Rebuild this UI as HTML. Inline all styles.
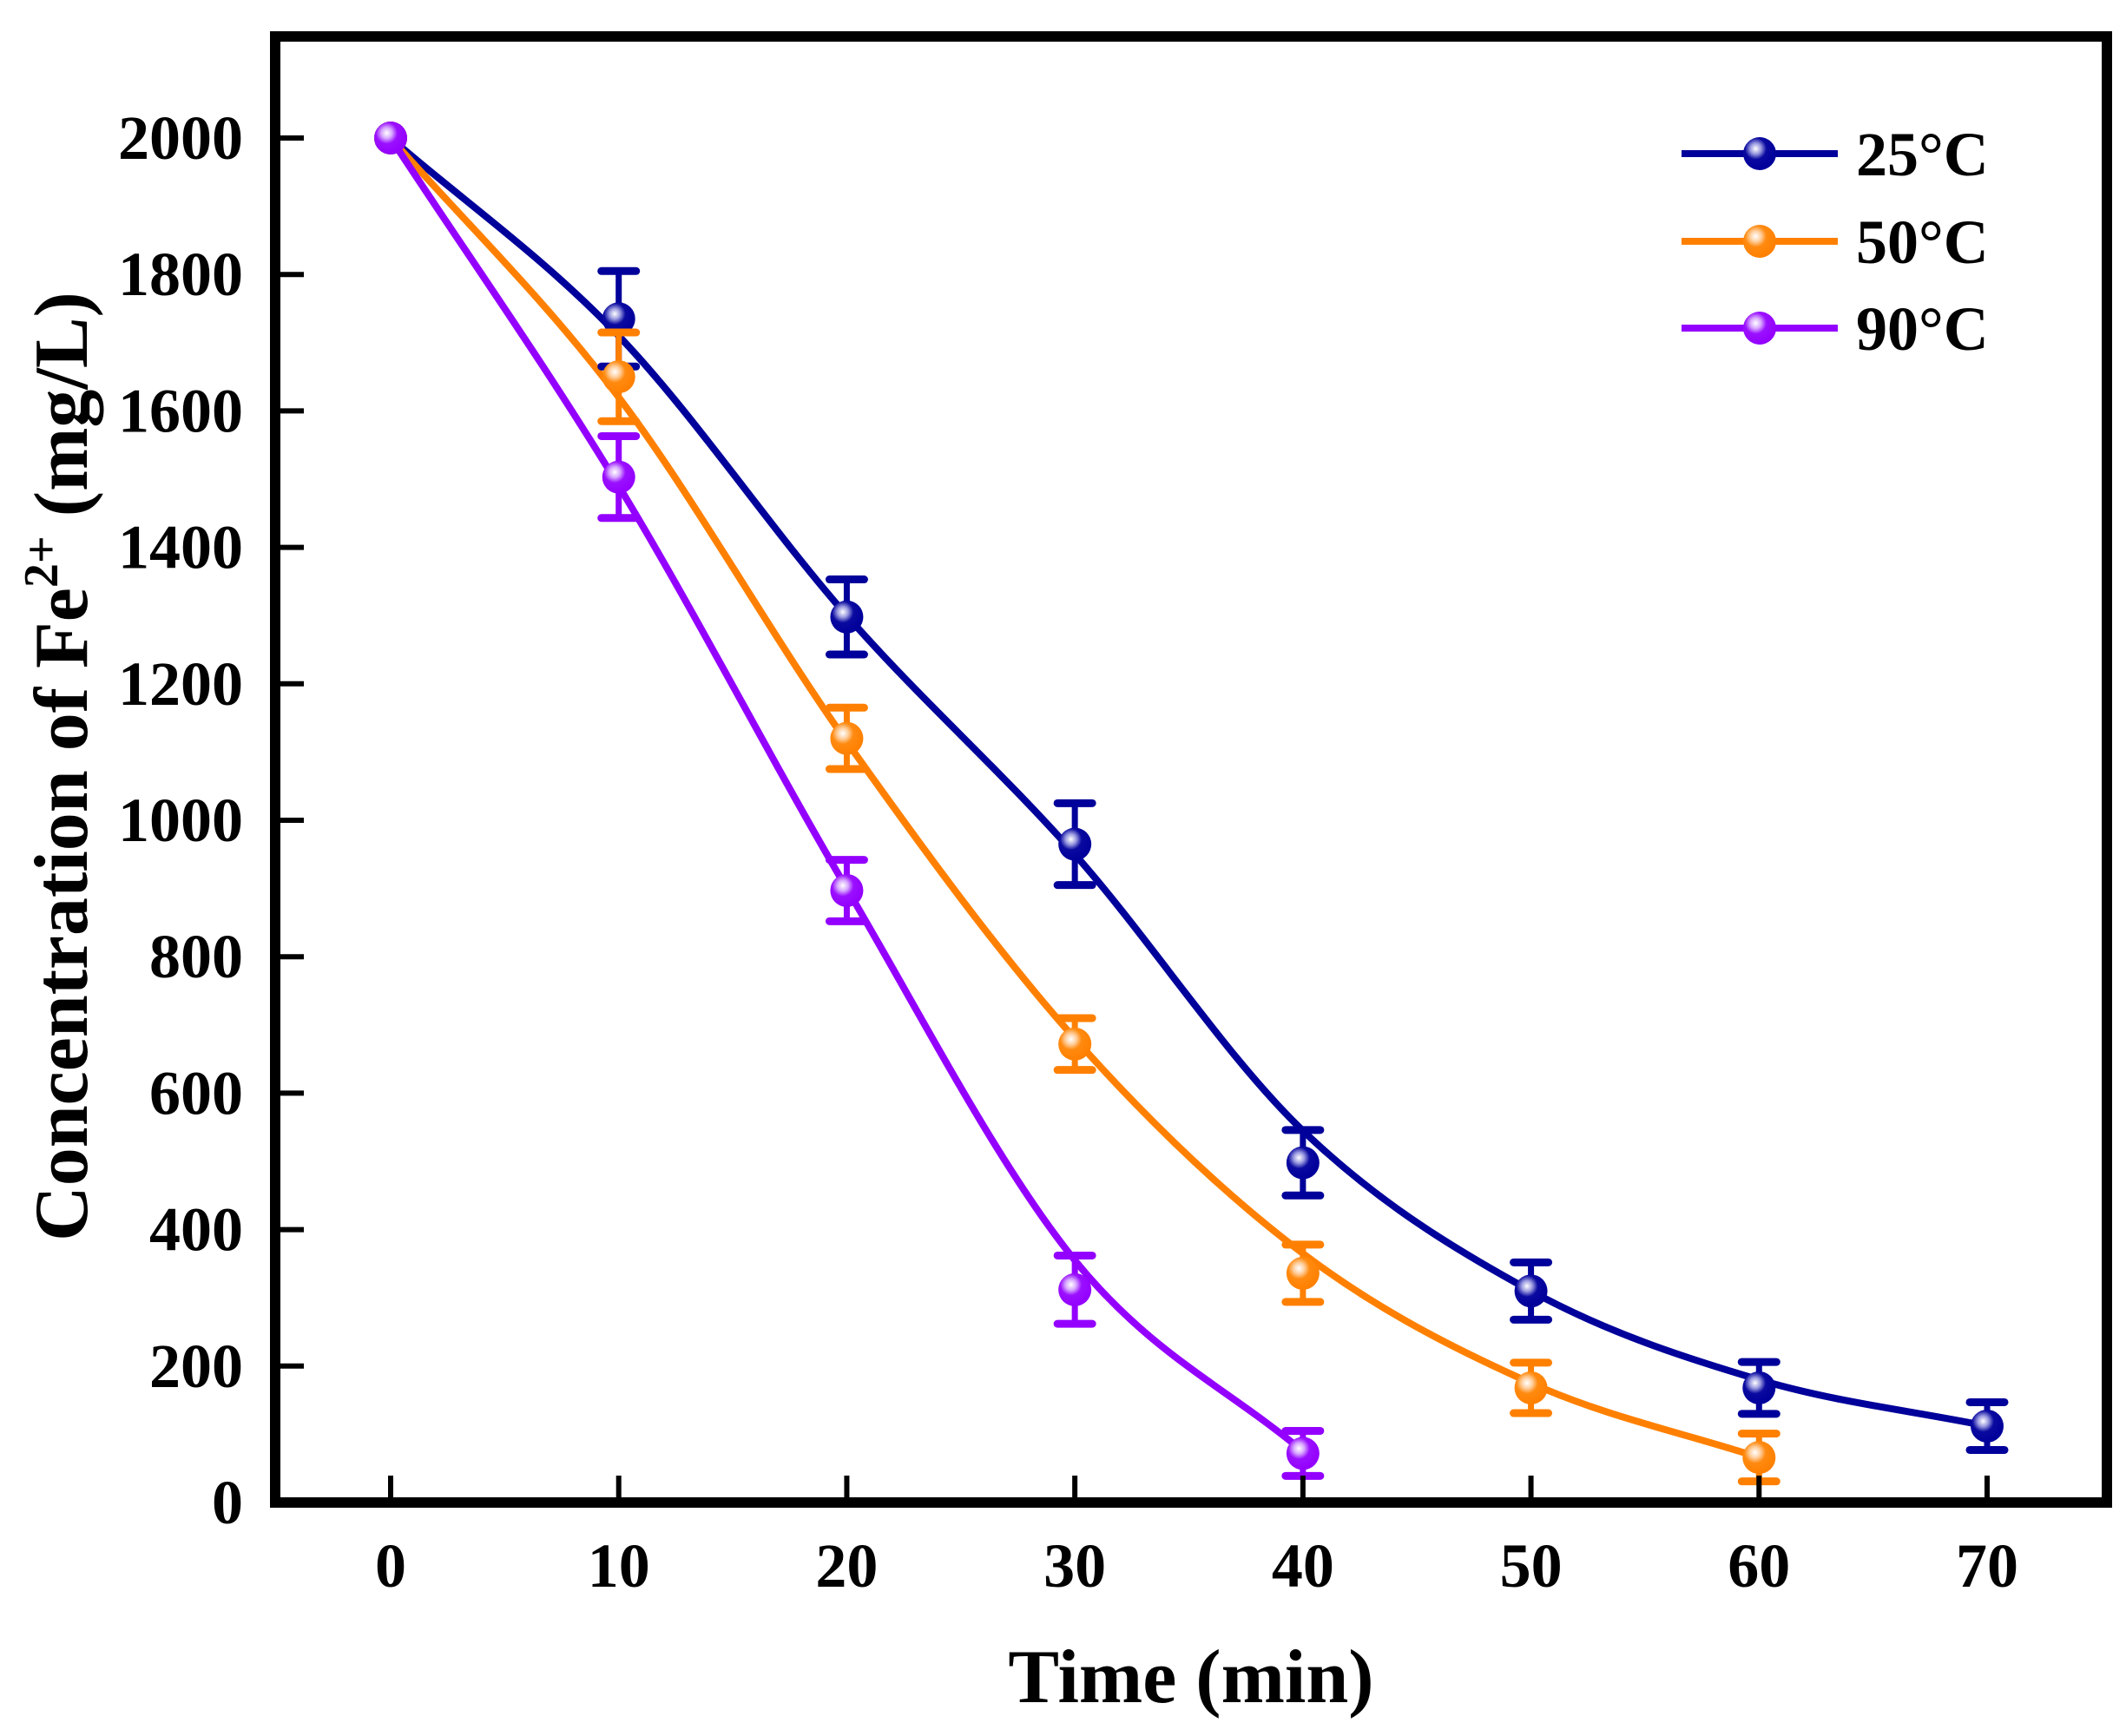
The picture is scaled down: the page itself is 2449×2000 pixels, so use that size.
<!DOCTYPE html>
<html><head><meta charset="utf-8"><style>
html,body{margin:0;padding:0;background:#fff}
svg{display:block}
text{font-family:"Liberation Serif",serif;font-weight:bold;fill:#000}
</style></head><body>
<svg id="chart" width="2449" height="2000" viewBox="0 0 2449 2000" xmlns="http://www.w3.org/2000/svg">
<defs>
<radialGradient id="g25" cx="0.38" cy="0.35" r="0.65"><stop offset="0" stop-color="#fff"/><stop offset="0.25" stop-color="#9a9ae0"/><stop offset="0.5" stop-color="#0a0aa0"/><stop offset="1" stop-color="#00009a"/></radialGradient>
<radialGradient id="g50" cx="0.38" cy="0.35" r="0.65"><stop offset="0" stop-color="#fff"/><stop offset="0.25" stop-color="#ffd0a0"/><stop offset="0.5" stop-color="#ff8a10"/><stop offset="1" stop-color="#ff8000"/></radialGradient>
<radialGradient id="g90" cx="0.38" cy="0.35" r="0.65"><stop offset="0" stop-color="#fff"/><stop offset="0.25" stop-color="#d8a8ff"/><stop offset="0.5" stop-color="#9a10ff"/><stop offset="1" stop-color="#9400ff"/></radialGradient>
</defs>
<g id="plot"></g>
<rect x="317" y="42" width="2110" height="1689" fill="none" stroke="#000" stroke-width="12"/>
<text x="1372" y="1961" font-size="88" text-anchor="middle">Time (min)</text>
<text transform="translate(100,883) rotate(-90)" font-size="88" text-anchor="middle">Concentration of Fe<tspan font-size="56" dy="-34">2+</tspan><tspan dy="34"> (mg/L)</tspan></text>
</svg>
<script>
const xTicks=[0,10,20,30,40,50,60,70];
const yTicks=[0,200,400,600,800,1000,1200,1400,1600,1800,2000];
const time25=[0,10,20,30,40,50,60,70];
const conc25=[2000,1735,1298,965,498,310,168,112];
const err25=[0,70,55,60,48,42,38,35];
const fit25=[2000,1710,1300,950,545,310,180,112];
const time50=[0,10,20,30,40,50,60];
const conc50=[2000,1650,1120,672,336,168,66];
const err50=[0,65,45,38,42,37,35];
const fit50=[2000,1620,1115,680,365,175,66];
const time90=[0,10,20,30,40];
const conc90=[2000,1503,897,312,72];
const err90=[0,60,45,50,33];
const fit90=[2000,1490,900,355,75];
const seriesNames=["25°C","50°C","90°C"];

const NS="http://www.w3.org/2000/svg";
const X=v=>450+v*(2289-450)/70;
const Y=v=>1731-v*(1731-159)/2000;
const svg=document.getElementById('chart');
const plot=document.getElementById('plot');
function mk(tag,attrs,parent){const e=document.createElementNS(NS,tag);for(const k in attrs)e.setAttribute(k,attrs[k]);(parent||svg).appendChild(e);return e;}

xTicks.forEach(t=>{
  const l=mk('line',{x1:X(t),x2:X(t),y1:1731,y2:1700,stroke:'#000','stroke-width':6});
  
  
  const tx=mk('text',{x:X(t),y:1828,'font-size':72,'text-anchor':'middle'});
  tx.textContent=t;
  
  
});
yTicks.forEach(t=>{
  const l=mk('line',{x1:317,x2:350,y1:Y(t),y2:Y(t),stroke:'#000','stroke-width':6});
  
  
  const tx=mk('text',{x:280,y:Y(t)+24,'font-size':72,'text-anchor':'end'});
  tx.textContent=t;
  
  
});

function monotone(xs,ys){
  const n=xs.length,d=[],m=[];
  for(let i=0;i<n-1;i++)d.push((ys[i+1]-ys[i])/(xs[i+1]-xs[i]));
  m[0]=d[0];m[n-1]=d[n-2];
  for(let i=1;i<n-1;i++)m[i]=(d[i-1]*d[i]<=0)?0:(d[i-1]+d[i])/2;
  let p=`M${xs[0]},${ys[0]}`;
  for(let i=0;i<n-1;i++){const h=xs[i+1]-xs[i];
    p+=` C${xs[i]+h/3},${ys[i]+m[i]*h/3} ${xs[i+1]-h/3},${ys[i+1]-m[i+1]*h/3} ${xs[i+1]},${ys[i+1]}`;}
  return p;
}
const series=[
 {t:time25,c:conc25,e:err25,f:fit25,col:'#00009a',g:'g25',key:'25c'},
 {t:time50,c:conc50,e:err50,f:fit50,col:'#ff8000',g:'g50',key:'50c'},
 {t:time90,c:conc90,e:err90,f:fit90,col:'#9400ff',g:'g90',key:'90c'}];
series.forEach(s=>{
  const p=mk('path',{d:monotone(s.t.map(X),s.f.map(Y)),fill:'none',stroke:s.col,'stroke-width':8},plot);
  
  
});
series.forEach(s=>{
  s.t.forEach((t,i)=>{
    const g=mk('g',{},plot);
    
    
    if(s.e[i]>0){
      const x=X(t),y1=Y(s.c[i]+s.e[i]),y2=Y(s.c[i]-s.e[i]);
      mk('line',{x1:x,x2:x,y1:y1,y2:y2,stroke:s.col,'stroke-width':7},g);
      mk('line',{x1:x-20,x2:x+20,y1:y1,y2:y1,stroke:s.col,'stroke-width':9,'stroke-linecap':'round'},g);
      mk('line',{x1:x-20,x2:x+20,y1:y2,y2:y2,stroke:s.col,'stroke-width':9,'stroke-linecap':'round'},g);
    }
    mk('circle',{cx:X(t),cy:Y(s.c[i]),r:19,fill:`url(#${s.g})`},g);
  });
});
const ly=[177,278,378];
series.forEach((s,i)=>{
  const g=mk('g',{});
  
  
  mk('line',{x1:1937,x2:2117,y1:ly[i],y2:ly[i],stroke:s.col,'stroke-width':8},g);
  mk('circle',{cx:2027,cy:ly[i],r:19,fill:`url(#${s.g})`},g);
  const tx=mk('text',{x:2138,y:ly[i]+25,'font-size':72},g);
  tx.textContent=seriesNames[i];
});
</script>
</body></html>
